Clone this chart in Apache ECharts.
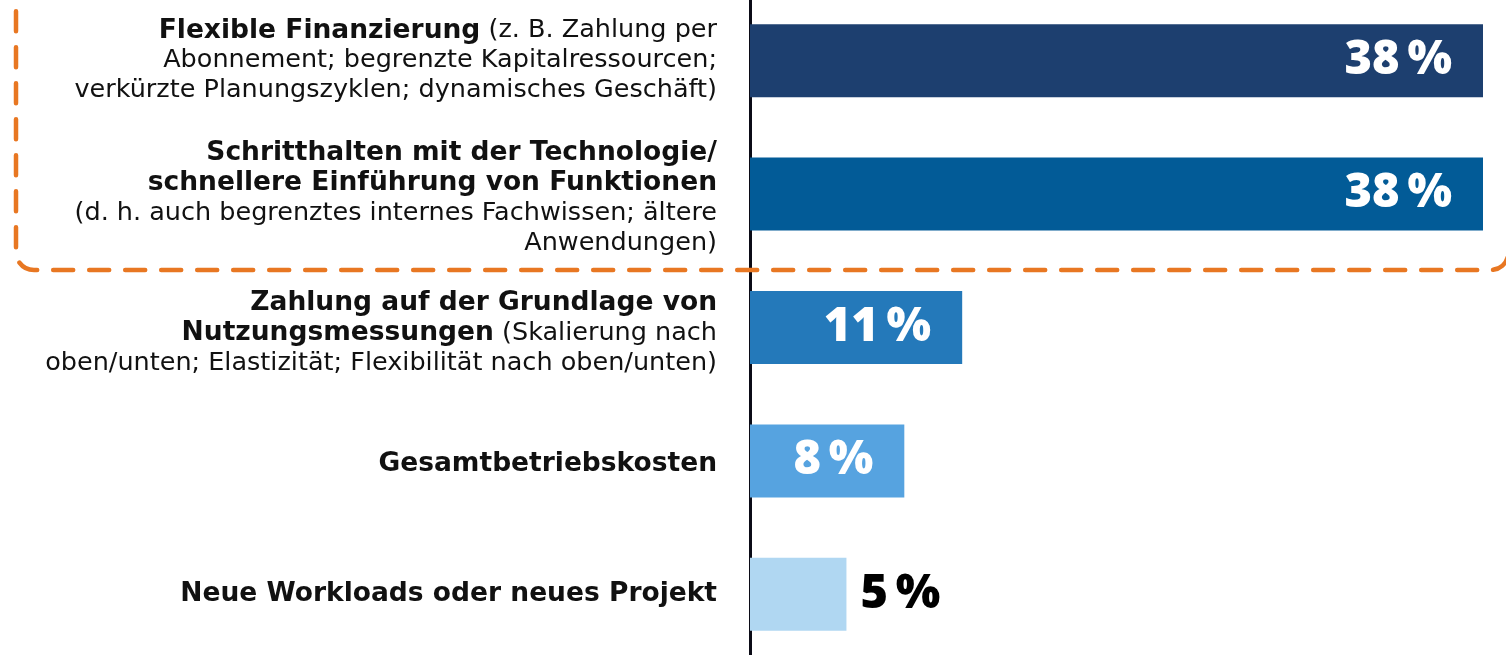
<!DOCTYPE html>
<html>
<head>
<meta charset="utf-8">
<script src="https://cdn.jsdelivr.net/npm/echarts@6/dist/echarts.min.js"></script>
<style>
html,body{margin:0;padding:0;background:#fff;}
#chart{width:1506px;height:655px;}
</style>
</head>
<body>
<div id="chart"></div>
<script>
// Category labels: **bold** segments, lines separated by \n
const categories = [
  "**Flexible Finanzierung** (z. B. Zahlung per\nAbonnement; begrenzte Kapitalressourcen;\nverkürzte Planungszyklen; dynamisches Geschäft)",
  "**Schritthalten mit der Technologie/**\n**schnellere Einführung von Funktionen**\n(d. h. auch begrenztes internes Fachwissen; ältere\nAnwendungen)",
  "**Zahlung auf der Grundlage von**\n**Nutzungsmessungen** (Skalierung nach\noben/unten; Elastizität; Flexibilität nach oben/unten)",
  "**Gesamtbetriebskosten**",
  "**Neue Workloads oder neues Projekt**"
];
const values = [38, 38, 11, 8, 5];
const barColors = ['#1D3F6F', '#025B97', '#2479BA', '#56A3E0', '#B0D7F2'];
const valueLabelInside = [true, true, true, true, false];
// small downward nudges of the category labels (styling only)
const labelNudge = [0, 9, 12, 6, 0];

function toRich(str) {
  return str.split('\n').map(function (line) {
    const parts = line.split('**');
    let out = '';
    parts.forEach(function (p, i) {
      if (!p) return;
      out += (i % 2 === 1 ? '{b|' : '{n|') + p + '}';
    });
    return out;
  }).join('\n');
}

const chart = echarts.init(document.getElementById('chart'));
const catFont = '"DejaVu Sans", "Open Sans", sans-serif';
const valFont = '"Open Sans", Lato, sans-serif';

chart.setOption({
  animation: false,
  grid: { left: 750, right: 23, top: -6, bottom: -6, containLabel: false, outerBoundsMode: 'none' },
  xAxis: { type: 'value', min: 0, max: 38, show: false },
  yAxis: {
    type: 'category',
    inverse: true,
    data: categories.map(function (c, i) {
      return { value: c, textStyle: { padding: [labelNudge[i], 0, 0, 0] } };
    }),
    offset: 3,
    axisLine: { show: true, lineStyle: { color: '#0b0b16', width: 3 } },
    axisTick: { show: false },
    axisLabel: {
      margin: 30,
      align: 'right',
      formatter: function (v) { return toRich(v); },
      rich: {
        b: { fontFamily: catFont, fontWeight: 'bold', fontSize: 26.5, color: '#111', lineHeight: 30, align: 'right' },
        n: { fontFamily: catFont, fontWeight: 'normal', fontSize: 25.5, color: '#111', lineHeight: 30, align: 'right' }
      }
    }
  },
  series: [{
    type: 'bar',
    barWidth: 73,
    data: values.map(function (v, i) {
      return {
        value: v,
        itemStyle: { color: barColors[i] },
        label: valueLabelInside[i]
          ? { position: 'insideRight', distance: 31, color: '#fff' }
          : { position: 'right', distance: 14, color: '#000' }
      };
    }),
    label: {
      show: true,
      formatter: '{c}\u2009%',
      fontFamily: valFont,
      fontWeight: 800,
      fontSize: 47
    }
  }],
  graphic: [{
    type: 'rect',
    silent: true,
    z: 100,
    shape: { x: 16, y: -40, width: 1492.5, height: 310, r: 18 },
    style: { fill: 'none', stroke: '#E87722', lineWidth: 4.5, lineCap: 'round', lineDash: [20, 16] }
  }]
});
</script>
</body>
</html>
